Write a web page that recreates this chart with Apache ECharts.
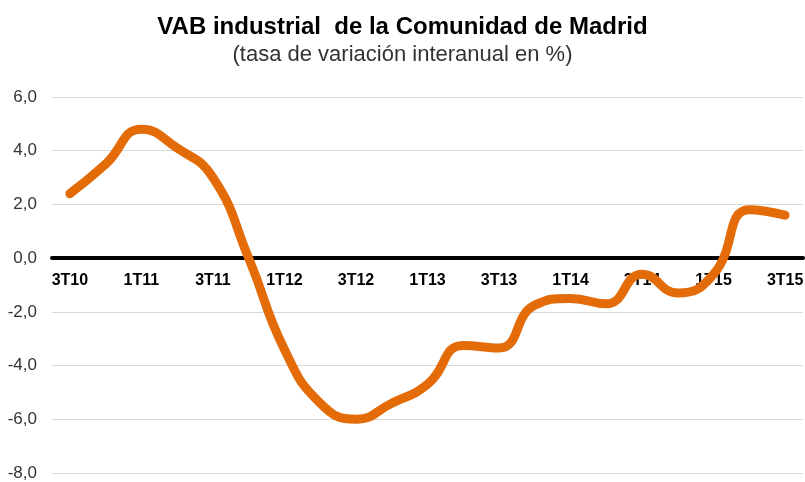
<!DOCTYPE html>
<html>
<head>
<meta charset="utf-8">
<script src="https://cdn.jsdelivr.net/npm/echarts@6/dist/echarts.min.js"></script>
<style>
  html, body { margin: 0; padding: 0; background: #fff; }
  #chart { width: 805px; height: 482px; }
</style>
</head>
<body>
<div id="chart"></div>
<script>
// trimestres 3T10 .. 3T15
const quarters = [
  "3T10", "4T10", "1T11", "2T11", "3T11", "4T11", "1T12", "2T12", "3T12", "4T12",
  "1T13", "2T13", "3T13", "4T13", "1T14", "2T14", "3T14", "4T14", "1T15", "2T15", "3T15"
];
// VAB industrial, tasa interanual (%)
const vabValues = [
  2.4, 3.5, 4.8, 4.1, 3.0, 0.0, -3.4, -5.4, -6.0, -5.4,
  -4.7, -3.25, -3.35, -1.75, -1.5, -1.7, -0.6, -1.3, -0.6, 1.8, 1.6
];
const yTicks = { min: -8, max: 6, step: 2 };

let chartDom = document.getElementById("chart");
let myChart = echarts.init(chartDom);

// grid
const gridTop = 97, gridBottom = 9;
const plotH = 482 - gridTop - gridBottom;
// x axis sits on the 0 line: shift it up from the bottom of the grid
const zeroOffset = -plotH * (0 - yTicks.min) / (yTicks.max - yTicks.min);

let option = {
  animation: false,
  title: [
    {
      text: "VAB industrial  de la Comunidad de Madrid",
      left: "center",
      top: 10,
      textStyle: { fontFamily: "Liberation Sans", fontWeight: "bold", fontSize: 24, color: "#000" }
    },
    {
      text: "(tasa de variación interanual en %)",
      left: "center",
      top: 39,
      textStyle: { fontFamily: "Liberation Sans", fontWeight: "normal", fontSize: 22, color: "#333" }
    }
  ],
  grid: { left: 52, right: 2, top: gridTop, bottom: gridBottom, outerBoundsMode: "none" },
  xAxis: {
    type: "category",
    data: quarters,
    boundaryGap: true,
    position: "bottom",
    offset: zeroOffset,
    axisLine: { onZero: false, lineStyle: { color: "#000", width: 4 } },
    axisTick: { show: false },
    axisLabel: {
      interval: 1,
      margin: 14,
      color: "#000",
      fontFamily: "Liberation Sans",
      fontWeight: "bold",
      fontSize: 16
    },
    splitLine: { show: false }
  },
  yAxis: {
    type: "value",
    min: yTicks.min,
    max: yTicks.max,
    interval: yTicks.step,
    axisLine: { show: false },
    axisTick: { show: false },
    axisLabel: {
      margin: 15,
      color: "#333",
      fontFamily: "Liberation Sans",
      fontSize: 17,
      formatter: (v) => v.toFixed(1).replace(".", ",")
    },
    splitLine: { lineStyle: { color: "#d9d9d9", width: 1 } }
  },
  series: [
    {
      name: "VAB industrial",
      type: "line",
      data: vabValues,
      smooth: 0.5,
      showSymbol: false,
      lineStyle: { color: "#E36C09", width: 9, cap: "round" }
    }
  ]
};
option && myChart.setOption(option);
</script>
</body>
</html>
